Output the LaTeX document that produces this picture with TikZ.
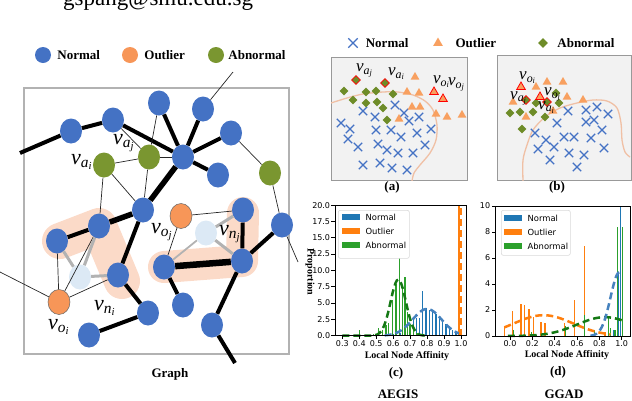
\documentclass[tikz,border=0pt]{standalone}
\usepackage{fontspec}
\setmainfont{Liberation Serif}
\newfontfamily\plotfont{DejaVu Sans}
\usepackage{tikz}
\usetikzlibrary{shapes.geometric}
\usetikzlibrary{shapes.misc}
\usetikzlibrary{backgrounds}
\usetikzlibrary{positioning}

\definecolor{nblue}{RGB}{68,114,196}
\definecolor{norange}{RGB}{247,150,88}
\definecolor{ngreen}{RGB}{122,150,48}
\definecolor{nlight}{RGB}{220,233,245}
\definecolor{peach}{RGB}{251,218,200}
\definecolor{panelbg}{RGB}{242,242,242}
\definecolor{sorange}{RGB}{248,160,96}
\definecolor{sgreen}{RGB}{110,140,40}
\definecolor{scurve}{RGB}{240,192,165}
\definecolor{mblue}{RGB}{31,119,180}
\definecolor{morange}{RGB}{255,127,14}
\definecolor{mgreen}{RGB}{44,160,44}
\definecolor{kblue}{RGB}{70,130,190}
\definecolor{kgreen}{RGB}{20,120,20}

\newcommand{\vsub}[2]{\textit{v}\textsubscript{\textit{#1}\textsubscript{\textit{#2}}}}

\begin{document}
\begin{tikzpicture}[x=1pt,y=-1pt]
    \tikzstyle{every node}=[inner sep=0pt]
    \tikzstyle{gnode}=[ellipse,minimum width=22pt,minimum height=25pt]
    \tikzstyle{nnode}=[gnode,fill=nblue]
    \tikzstyle{onode}=[gnode,fill=norange,draw=black!60,line width=0.5pt]
    \tikzstyle{anode}=[gnode,fill=ngreen]
    \tikzstyle{lnode}=[gnode,fill=nlight]
    \tikzstyle{fat}=[line width=4pt]
    \tikzstyle{slim}=[line width=0.7pt,black!85]
    \tikzstyle{gedge}=[line width=3pt,gray!60]
    \tikzstyle{blob}=[peach,line cap=round,line join=round]
    \tikzstyle{vlab}=[anchor=base west,font=\fontsize{22}{26}\selectfont]
    \tikzstyle{slab}=[anchor=base west,font=\fontsize{17}{20}\selectfont]
    \tikzstyle{capt}=[font=\bfseries\fontsize{13}{15}\selectfont]
    \tikzstyle{leg}=[anchor=west,font=\bfseries\fontsize{13}{15}\selectfont]
    \tikzstyle{xmark}=[cross out,draw=nblue,line width=1.3pt,minimum size=7pt]
    \tikzstyle{tmark}=[regular polygon,regular polygon sides=3,fill=sorange,minimum size=10pt]
    \tikzstyle{dmark}=[diamond,fill=sgreen,minimum size=9pt]
    \tikzstyle{hot}=[draw=red,line width=0.8pt]
    \tikzstyle{panel}=[fill=panelbg,draw=gray!80,line width=0.8pt]
    \tikzstyle{ticklab}=[font=\plotfont\fontsize{8}{9}\selectfont]
    \tikzstyle{axlab}=[font=\bfseries\fontsize{10}{12}\selectfont]
    \tikzstyle{hbar}=[line width=1.2pt]
    \tikzstyle{kde}=[line width=2.5pt,dash pattern=on 7pt off 4pt]
    \tikzstyle{legbox}=[draw=gray!30,fill=white,rounded corners=2pt,line width=0.6pt,anchor=north west]
    \tikzstyle{swatch}=[minimum width=18pt,minimum height=6pt,anchor=west]
    \tikzstyle{ltext}=[anchor=west,font=\plotfont\fontsize{8.4}{10}\selectfont]

    \useasboundingbox (0,0) rectangle (632,400);

    \node[anchor=base west,font=\fontsize{23}{27}\selectfont] (mail) at (63,5.5) {gspang@smu.edu.sg};

    % legend of the graph
    \node[nnode,minimum width=16pt,minimum height=16pt] (lgn) at (43,55) {};
    \node[leg,right=6pt of lgn] (lgnt) {Normal};
    \node[gnode,fill=norange,minimum width=16pt,minimum height=16pt] (lgo) at (130,55) {};
    \node[leg,right=6pt of lgo] (lgot) {Outlier};
    \node[anode,minimum width=16pt,minimum height=16pt] (lga) at (216,55) {};
    \node[leg,right=4pt of lga] (lgat) {Abnormal};

    % graph
    \node[nnode] (n1) at (71,131) {};
    \node[nnode] (n2) at (113,120) {};
    \node[nnode] (n3) at (159,103) {};
    \node[nnode] (n4) at (203,109) {};
    \node[nnode] (hub) at (183,157) {};
    \node[nnode] (n5) at (231,133) {};
    \node[nnode] (n6) at (218,175) {};
    \node[anode] (aj) at (149,157) {};
    \node[anode] (ai) at (104,165) {};
    \node[anode] (ar) at (270,173) {};
    \node[nnode] (m1) at (143,210) {};
    \node[onode] (oj) at (181,216) {};
    \node[nnode] (r1) at (243,210) {};
    \node[nnode] (r2) at (282,225) {};
    \node[lnode] (nj) at (206,233) {};
    \node[nnode] (r3) at (242,261) {};
    \node[nnode] (b1) at (164,267) {};
    \node[nnode] (b2) at (183,305) {};
    \node[nnode] (b3) at (212,325) {};
    \node[nnode] (l1) at (57,241) {};
    \node[nnode] (l2) at (99,226) {};
    \node[nnode] (l3) at (118,275) {};
    \node[lnode] (ni) at (80,277) {};
    \node[onode] (oi) at (59,302) {};
    \node[nnode] (l4) at (148,313) {};
    \node[nnode] (l5) at (89,335) {};

    \coordinate (e1) at (20,153);
    \coordinate (e2) at (0,272);
    \coordinate (e3) at (233,72);
    \coordinate (e4) at (235,363);
    \coordinate (e5) at (298,262);

    \begin{scope}[on background layer]
      \draw[gray!60,line width=1.5pt] (24,88) rectangle (289,354);
      \draw[blob,line width=36pt] ([xshift=3]l1.center) -- (l2.center) -- ([shift={(4,6)}]l3.center);
      \draw[blob,line width=32pt] (b1.center) -- (r3.center) -- ([yshift=-3]r1.center);
    \end{scope}

    \foreach \a/\b in {e1/n1,n1/n2,n2/hub,n3/hub,n4/hub,hub/n5,hub/n6,l1/l2,m1/l3,l3/l4,l4/l5,b1/b2,r1/r3,r3/r2,r3/b3,b3/e4}
      \draw[fat] (\a) -- (\b);
    \draw[line width=5.5pt] (hub) -- (m1);
    \draw[line width=5.5pt] (m1) -- (l2);
    \draw[line width=6.5pt] (b1) -- (r3);
    \foreach \a/\b in {n2/aj,n3/aj,ai/aj,aj/hub,aj/m1,ai/m1,ai/l2,n5/ar,ar/r2,oj/r1,oj/b1,oi/l1,oi/l2,oi/l3,oi/e2,n4/e3,r2/e5}
      \draw[slim] (\a) -- (\b);
    \foreach \a/\b in {l1/ni,l2/ni,ni/l3,r1/nj,nj/r3}
      \draw[gedge] (\a) -- (\b);
    \draw[gedge,line width=1.8pt] (b1) -- (nj);

    \node[vlab] (vaj) at (113,144) {\vsub{a}{j}};
    \node[vlab] (vai) at (71,164) {\vsub{a}{i}};
    \node[vlab] (voj) at (151,233) {\vsub{o}{j}};
    \node[vlab] (vnj) at (219,235) {\vsub{n}{j}};
    \node[vlab] (vni) at (94,310) {\vsub{n}{i}};
    \node[vlab] (voi) at (48,329) {\vsub{o}{i}};
    \node[capt] (graph) at (170,374) {Graph};

    % legend of the scatter plots
    \node[xmark,minimum size=8pt] (lsx) at (353,43) {};
    \node[leg,right=8pt of lsx] (lsxt) {Normal};
    \node[tmark,minimum size=11pt] (lst) at (438,43) {};
    \node[leg,right=14pt of lst] (lstt) {Outlier};
    \node[dmark,minimum size=10pt] (lsd) at (543,43) {};
    \node[leg,right=9pt of lsd] (lsdt) {Abnormal};

    % (a)
    \draw[panel] (331,57) rectangle (467,180);
    \begin{scope}
      \clip (331,57) rectangle (467,180);
      \draw[scurve,line width=1.3pt] plot[smooth] coordinates {(331,103) (347,98) (363,94) (383,92) (398,92) (413,95) (425,101) (433,110) (437,125) (436,140) (430,153) (420,165) (414,173) (412,181)};
    \end{scope}
    \foreach \x/\y [count=\k] in {395/105,404/113,363/111,375/117,409/121,419/117,341/123,350/129,376/130,391/130,401/137,417/133,431/129,348/139,358/147,378/144,387/150,398/153,413/153,425/145,363/165,380/163,392/168,407/170}
      \node[xmark] (ax\k) at (\x,\y) {};
    \foreach \x/\y [count=\k] in {415/77,407/92,419/93,412/107,420/107,436/114,447/117,462/115,399/119}
      \node[tmark] (at\k) at (\x,\y) {};
    \foreach \x/\y [count=\k] in {344/91,366/92,376/91,393/94,353/100,366/103,377/102,383/108,387/120}
      \node[dmark] (ad\k) at (\x,\y) {};
    \node[dmark,hot] (aaj) at (356,80) {};
    \node[dmark,hot] (aai) at (385,83) {};
    \node[tmark,hot] (aoi) at (434,92) {};
    \node[tmark,hot] (aoj) at (443,99) {};
    \node[slab] (avaj) at (356,71.5) {\vsub{a}{j}};
    \node[slab] (avai) at (388,75.5) {\vsub{a}{i}};
    \node[slab] (avoi) at (433,83.5) {\vsub{o}{i}};
    \node[slab] (avoj) at (448,85.5) {\vsub{o}{j}};
    \node[capt] (capa) at (392,187) {(a)};

    % (b)
    \draw[panel] (497,55) rectangle (631,180);
    \begin{scope}
      \clip (497,55) rectangle (631,180);
      \draw[scurve,line width=1.3pt] plot[smooth] coordinates {(523,181) (523,160) (527,145) (533,130) (545,117) (560,108) (577,103) (593,100) (607,101) (617,108) (621,123) (622,140) (625,152) (630,157)};
    \end{scope}
    \foreach \x/\y [count=\k] in {568/111,586/110,597/107,557/123,586/122,594/120,608/114,535/133,546/140,564/137,574/137,591/138,602/130,538/149,554/147,569/153,584/155,604/148,550/160,577/167}
      \node[xmark] (bx\k) at (\x,\y) {};
    \foreach \x/\y [count=\k] in {547/82,563/82,536/87,513/102,567/97,583/100,553/111,526/117}
      \node[tmark] (bt\k) at (\x,\y) {};
    \foreach \x/\y [count=\k] in {556/93,559/103,510/113,520/112,533/112,536/103,545/117,522/129}
      \node[dmark] (bd\k) at (\x,\y) {};
    \node[tmark,hot] (boi) at (521,87) {};
    \node[tmark,hot] (boj) at (540,97) {};
    \node[dmark,hot] (baj) at (526,100) {};
    \node[dmark,hot] (bai) at (547,102) {};
    \node[slab] (bvoi) at (519,79.5) {\vsub{o}{i}};
    \node[slab] (bvaj) at (510,99) {\vsub{a}{j}};
    \node[slab] (bvoj) at (544,95.5) {\vsub{o}{j}};
    \node[slab] (bvai) at (538,109) {\vsub{a}{i}};
    \node[capt] (capb) at (557,187) {(b)};

    % (c) AEGIS histogram
    \begin{scope}[shift={(291.4pt,-335.7pt)},x=169.6pt,y=6.53pt]
      \foreach \v/\h in {0.60/0.3,0.64/0.4,0.67/0.6,0.699/1.5,0.719/2.5,0.738/2.7,0.754/2.7,0.774/6.9,0.794/4.3,0.813/4.0,0.833/3.7,0.853/3.3,0.872/2.5,0.892/2.2,0.911/1.8,0.931/1.3,0.951/0.8,0.97/0.4}
        \draw[hbar,mblue] (\v,0) -- (\v,\h);
      \draw[hbar,morange] (0.988,0) -- (0.988,20);
      \foreach \v/\h in {0.40/0.8,0.483/0.3,0.512/1.2,0.538/0.8,0.558/1.6,0.571/2.0,0.597/5.5,0.617/7.9,0.636/13.5,0.656/7.6,0.670/9.0,0.683/3.6,0.699/1.8,0.719/0.9,0.74/0.4}
        \draw[hbar,mgreen] (\v,0) -- (\v,\h);
      \draw[kde,kgreen,domain=0.3:0.8,samples=60] plot (\x,{8.6*exp(-((\x-0.63)*(\x-0.63))/0.00405)});
      \draw[kde,kblue,domain=0.55:1.0,samples=50] plot (\x,{4.1*exp(-((\x-0.8)*(\x-0.8))/0.0145)});
      \draw[kde,morange] (0.997,0) -- (0.997,20);
      \draw[line width=0.8pt] (0.257,0) rectangle (1.029,20);
      \foreach \t [count=\k] in {0.3,0.4,0.5,0.6,0.7,0.8,0.9,1.0}
        \draw[line width=0.8pt] (\t,0) -- ++(0,-3.5pt) node[ticklab,below=1pt] (cx\k) {\t};
      \foreach \t [count=\k] in {0.0,2.5,5.0,7.5,10.0,12.5,15.0,17.5,20.0}
        \draw[line width=0.8pt] (0.257,\t) -- ++(-3.5pt,0) node[ticklab,left=1pt] (cy\k) {\t};
    \end{scope}
    \node[legbox,minimum width=71pt,minimum height=48pt] (legc) at (338,210) {};
    \node[swatch,fill=mblue] (lcn) at (342,217) {};
    \node[ltext,right=5pt of lcn] (lcnt) {Normal};
    \node[swatch,fill=morange] (lco) at (342,231) {};
    \node[ltext,right=5pt of lco] (lcot) {Outlier};
    \node[swatch,fill=mgreen] (lca) at (342,245) {};
    \node[ltext,right=5pt of lca] (lcat) {Abnormal};
    \node[axlab,rotate=-90] (prop) at (310,272) {Proportion};
    \node[axlab] (affc) at (407,356) {Local Node Affinity};
    \node[capt] (capc) at (396,373) {(c)};
    \node[capt] (aegis) at (398,394) {AEGIS};

    % (d) GGAD histogram
    \begin{scope}[shift={(510pt,-336pt)},x=111.7pt,y=13pt]
      \foreach \v/\h in {-0.05/0.8,0.024/1.9,0.098/2.5,0.128/2.4,0.17/2.1,0.209/1.5,0.277/1.1,0.313/1.0,0.49/1.0,0.58/2.8,0.67/6.9,0.85/0.3,0.9/0.4}
        \draw[hbar,morange] (\v,0) -- (\v,\h);
      \foreach \v/\h in {0.93/0.5,0.97/4.9,0.99/10}
        \draw[hbar,mblue] (\v,0) -- (\v,\h);
      \foreach \v/\h in {0.03/0.5,0.19/0.3,0.5/0.8,0.67/1.6,0.76/0.5,0.88/1.5,0.90/0.6,0.94/0.5,0.96/8.4,1.01/8.4}
        \draw[hbar,mgreen] (\v,0) -- (\v,\h);
      \draw[kde,morange,domain=-0.05:0.9,samples=50] plot (\x,{1.6*exp(-((\x-0.3)*(\x-0.3))/0.14)});
      \draw[kde,kgreen,domain=-0.02:1.0,samples=50] plot (\x,{1.45*exp(-((\x-0.85)*(\x-0.85))/0.125)});
      \draw[kde,kblue,domain=0.72:1.0,samples=40] plot (\x,{4.9*exp(-((\x-0.98)*(\x-0.98))/0.0128)});
      \draw[line width=0.8pt] (-0.134,0) rectangle (1.074,10);
      \foreach \t [count=\k] in {0.0,0.2,0.4,0.6,0.8,1.0}
        \draw[line width=0.8pt] (\t,0) -- ++(0,-3.5pt) node[ticklab,below=1pt] (dx\k) {\t};
      \foreach \t [count=\k] in {0,2,4,6,8,10}
        \draw[line width=0.8pt] (-0.134,\t) -- ++(-3.5pt,0) node[ticklab,left=1pt] (dy\k) {\t};
    \end{scope}
    \node[legbox,minimum width=69pt,minimum height=45pt] (legd) at (501,210) {};
    \node[swatch,fill=mblue] (ldn) at (504,218) {};
    \node[ltext,right=5pt of ldn] (ldnt) {Normal};
    \node[swatch,fill=morange] (ldo) at (504,232) {};
    \node[ltext,right=5pt of ldo] (ldot) {Outlier};
    \node[swatch,fill=mgreen] (lda) at (504,246) {};
    \node[ltext,right=5pt of lda] (ldat) {Abnormal};
    \node[axlab] (affd) at (567,355) {Local Node Affinity};
    \node[capt] (capd) at (558,372) {(d)};
    \node[capt] (ggad) at (564,394) {GGAD};

  \end{tikzpicture}
\end{document}
